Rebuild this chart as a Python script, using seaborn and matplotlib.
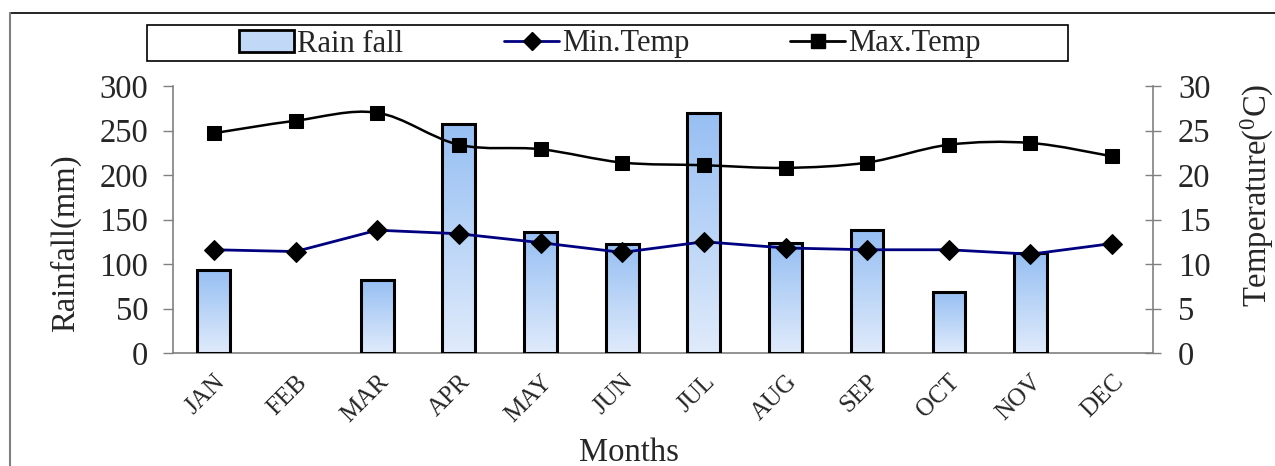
import numpy as np
import pandas as pd
import matplotlib
matplotlib.use("Agg")
import matplotlib.pyplot as plt
import seaborn as sns
from matplotlib.path import Path
from matplotlib.patches import PathPatch, Rectangle, Patch
from matplotlib.lines import Line2D

# ---------------- data ----------------
months = ["JAN", "FEB", "MAR", "APR", "MAY", "JUN", "JUL", "AUG", "SEP", "OCT", "NOV", "DEC"]
rainfall = [93, 0, 82, 257, 136, 123, 270, 124, 138, 69, 112, 0]
min_temp = [11.6, 11.4, 13.8, 13.4, 12.4, 11.3, 12.5, 11.8, 11.6, 11.6, 11.1, 12.3]
max_temp = [24.7, 26.1, 27.0, 23.4, 22.9, 21.4, 21.1, 20.8, 21.4, 23.4, 23.6, 22.1]
rain_ticks = [0, 50, 100, 150, 200, 250, 300]
temp_ticks = [0, 5, 10, 15, 20, 25, 30]

df = pd.DataFrame({"month": months, "rain": rainfall, "tmin": min_temp,
                   "tmax": max_temp, "pos": np.arange(len(months))})

sns.set_style("white")
plt.rcParams["font.family"] = ["Liberation Serif", "DejaVu Serif"]
plt.rcParams["mathtext.fontset"] = "custom"
plt.rcParams["mathtext.rm"] = "Liberation Serif"
plt.rcParams["mathtext.it"] = "Liberation Serif:italic"

fig = plt.figure(figsize=(12.75, 4.66), dpi=100)
ax = fig.add_axes([173 / 1275, 1 - 353 / 466, 980 / 1275, 267 / 466])

FS = 23.5
GRAY = "#808080"

# ---------------- bars ----------------
sns.barplot(data=df, x="month", y="rain", ax=ax, width=0.4,
            facecolor="none", edgecolor="black", linewidth=2.2, zorder=3)
grad = np.linspace(0, 1, 256).reshape(-1, 1)
cmap = matplotlib.colors.LinearSegmentedColormap.from_list("g", ["#e0ebfb", "#96bff3"])
for p in ax.patches:
    x0, y0 = p.get_x(), p.get_y()
    w, h = p.get_width(), p.get_height()
    if h <= 0:
        p.set_visible(False)
        continue
    im = ax.imshow(grad, extent=[x0, x0 + w, y0, y0 + h], origin="lower",
                   cmap=cmap, aspect="auto", zorder=2, interpolation="bilinear")
    im.set_clip_path(p)

ax.set_xlim(-0.5, len(months) - 0.5)
ax.set_ylim(0, 300)
ax.set_yticks(rain_ticks)
ax.set_yticklabels([str(t) for t in rain_ticks], fontsize=FS)

# x ticks: labels at centers, tick marks at boundaries
ax.set_xticks(np.arange(len(months)))
ax.set_xticklabels(months, fontsize=18, rotation=45, ha="right",
                   rotation_mode="anchor")
ax.set_xticks(np.arange(len(months) + 1) - 0.5, minor=True)
ax.tick_params(axis="x", which="major", length=0, pad=13)
ax.tick_params(axis="x", which="minor", length=7, width=1, color=GRAY, direction="out")
ax.tick_params(axis="y", length=7, width=1, color=GRAY, direction="out", pad=11)

for s in ["top", "right"]:
    ax.spines[s].set_visible(False)
for s in ["left", "bottom"]:
    ax.spines[s].set_color(GRAY)
    ax.spines[s].set_linewidth(1.2)

ax.set_xlabel("Months", fontsize=FS)
ax.set_ylabel("Rainfall(mm)", fontsize=FS)
ax.xaxis.set_label_coords(0.465, -0.318)
ax.yaxis.set_label_coords(-0.094, 0.41)

# ---------------- temperature lines ----------------
ax2 = ax.twinx()
ax2.set_ylim(0, 30)
ax2.set_yticks(temp_ticks)
ax2.set_yticklabels([str(t) for t in temp_ticks], fontsize=FS)
ax2.tick_params(axis="y", length=12, width=1, color=GRAY, direction="inout", pad=12)
for s in ["top", "left", "bottom"]:
    ax2.spines[s].set_visible(False)
ax2.spines["right"].set_color(GRAY)
ax2.spines["right"].set_linewidth(1.2)

sns.lineplot(data=df, x="pos", y="tmin", ax=ax2, color="#000080", linewidth=2.0,
             marker="D", markersize=10, markerfacecolor="black",
             markeredgecolor="black", zorder=5)

# smoothed max temp curve (Catmull-Rom style Bezier through the data points)
px = df["pos"].to_numpy(dtype=float)
py = df["tmax"].to_numpy(dtype=float)
verts = [(px[0], py[0])]
codes = [Path.MOVETO]
n = len(px)
for i in range(n - 1):
    im1 = max(i - 1, 0)
    ip2 = min(i + 2, n - 1)
    c1 = (px[i] + (px[i + 1] - px[im1]) / 6, py[i] + (py[i + 1] - py[im1]) / 6)
    c2 = (px[i + 1] - (px[ip2] - px[i]) / 6, py[i + 1] - (py[ip2] - py[i]) / 6)
    verts += [c1, c2, (px[i + 1], py[i + 1])]
    codes += [Path.CURVE4] * 3
ax2.add_patch(PathPatch(Path(verts, codes), facecolor="none", edgecolor="black",
                        linewidth=1.8, zorder=5))
sns.lineplot(data=df, x="pos", y="tmax", ax=ax2, linestyle="none", marker="s",
             markersize=10, markerfacecolor="black", markeredgecolor="black",
             zorder=6)
ax2.set_xlim(-0.5, len(months) - 0.5)
ax2.set_xlabel("")
ax2.set_ylabel(r"Temperature($\mathrm{^0}$C)", fontsize=FS)
ax2.yaxis.set_label_coords(1.088, 0.59)

# ---------------- frame & legend ----------------
fig.add_artist(Line2D([10 / 1275, 1], [1 - 13 / 466, 1 - 13 / 466], color="black",
                      linewidth=1.2, transform=fig.transFigure))
fig.add_artist(Line2D([10 / 1275, 10 / 1275], [0, 1 - 13 / 466], color=GRAY,
                      linewidth=1.5, transform=fig.transFigure))
fig.add_artist(Rectangle((147 / 1275, 1 - 61 / 466), (1068 - 147) / 1275, 36 / 466,
                         facecolor="none", edgecolor="black", linewidth=1.2,
                         transform=fig.transFigure))

handles = [Patch(facecolor="#c2d8f7", edgecolor="black", linewidth=2),
           Line2D([], [], color="#000080", linewidth=2, marker="D", markersize=9,
                  markerfacecolor="black", markeredgecolor="black"),
           Line2D([], [], color="black", linewidth=2, marker="s", markersize=10,
                  markerfacecolor="black", markeredgecolor="black")]
fig.legend(handles, ["Rain fall", "Min.Temp", "Max.Temp"], ncol=3, frameon=False,
           loc="center", bbox_to_anchor=(610 / 1275, 1 - 44 / 466), fontsize=22,
           handlelength=1.8, handletextpad=0.1, columnspacing=3.3, borderpad=0.1)

fig.savefig("out.png", dpi=100)
